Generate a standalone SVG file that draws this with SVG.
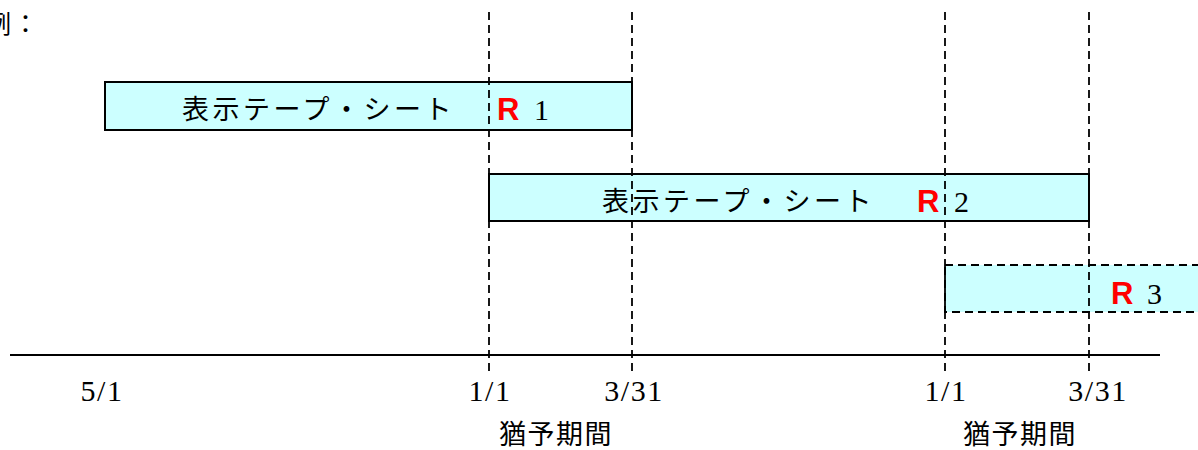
<svg xmlns="http://www.w3.org/2000/svg" width="1198" height="450" viewBox="0 0 1198 450">
<style>
.bar{fill:#ccffff;stroke:#000;stroke-width:2}
.dbar{fill:#ccffff;stroke:#000;stroke-width:2;stroke-dasharray:8 5}
.vl{stroke:#000;stroke-width:1.8;stroke-dasharray:8 5;fill:none}
.jp{font-family:"Noto Sans CJK JP","Noto Sans CJK SC",sans-serif;font-size:27px;fill:#000;letter-spacing:3.5px}
.r{font-family:"Liberation Sans",Arial,sans-serif;font-weight:bold;font-size:31px;fill:#ff0000}
.num{font-family:"Liberation Serif","Times New Roman",serif;font-size:30px;fill:#000}
.ax{font-family:"Liberation Serif","Times New Roman",serif;font-size:30px;fill:#000;letter-spacing:1.5px}
.lbl{font-family:"Noto Sans CJK JP","Noto Sans CJK SC",sans-serif;font-size:27px;fill:#000;letter-spacing:1.5px}
</style>
<rect width="1198" height="450" fill="#fff"/>
<text x="-14" y="33" class="jp" style="font-size:25px;letter-spacing:2px">例：</text>
<g id="r1">
<rect class="bar" x="105" y="82" width="527" height="48"/>
<text x="182" y="119" class="jp">表示テープ・シート</text>
<text x="497" y="120" class="r">R</text>
<text x="534" y="120" class="num">1</text>
</g>
<g id="r2">
<rect class="bar" x="489" y="174" width="600" height="47"/>
<text x="602" y="211" class="jp">表示テープ・シート</text>
<text x="917" y="212" class="r">R</text>
<text x="954" y="212" class="num">2</text>
</g>
<g id="r3">
<rect class="dbar" x="945" y="265" width="270" height="47"/>
<text x="1111" y="304" class="r">R</text>
<text x="1147" y="304" class="num">3</text>
</g>
<g id="connectors">
<line class="vl" x1="489" y1="12" x2="489" y2="372"/>
<line class="vl" x1="632" y1="12" x2="632" y2="372"/>
<line class="vl" x1="945" y1="12" x2="945" y2="372"/>
<line class="vl" x1="1089" y1="12" x2="1089" y2="372"/>
<line x1="10" y1="355" x2="1160" y2="355" stroke="#000" stroke-width="2"/>
</g>
<g id="labels">
<text x="102" y="401" class="ax" text-anchor="middle">5/1</text>
<text x="490" y="401" class="ax" text-anchor="middle">1/1</text>
<text x="634" y="401" class="ax" text-anchor="middle">3/31</text>
<text x="946" y="401" class="ax" text-anchor="middle">1/1</text>
<text x="1098" y="401" class="ax" text-anchor="middle">3/31</text>
<text x="499" y="444" class="lbl">猶予期間</text>
<text x="963" y="444" class="lbl">猶予期間</text>
</g>
</svg>
